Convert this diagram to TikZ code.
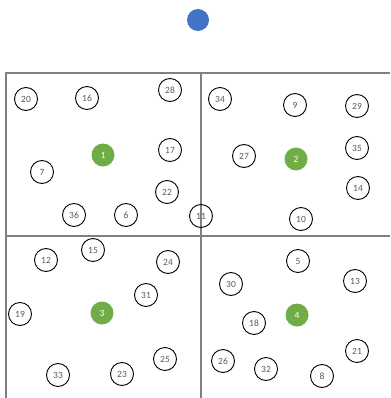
\documentclass[tikz,border=0pt]{standalone}
\usepackage{fontspec}
\setmainfont{Carlito}
\definecolor{frameg}{HTML}{808080}
\definecolor{txtg}{HTML}{595959}
\definecolor{grn}{HTML}{70AD47}
\definecolor{blu}{HTML}{4472C4}
\begin{document}
\begin{tikzpicture}[x=1pt,y=-1pt,
  pt/.style={circle,draw=black,line width=0.9pt,minimum size=23pt,inner sep=0pt,font=\fontsize{9.5}{10}\selectfont,text=txtg},
  hub/.style={circle,fill=grn,minimum size=23pt,inner sep=0pt,font=\fontsize{9.5}{10}\selectfont,text=white},
  frame/.style={draw=frameg,line width=1.2pt}]
\useasboundingbox (0,0) rectangle (390,398);
\draw[frame] (6,398) -- (6,73) -- (390,73);
\draw[frame] (201,73) -- (201,398);
\draw[frame] (6,236) -- (390,236);
\node[circle,fill=blu,minimum width=22pt,inner sep=0pt] (top) at (198,20) {};
\node[hub] (n1) at (103,155) {1};
\node[hub] (n2) at (296,159) {2};
\node[hub] (n3) at (102,313) {3};
\node[hub] (n4) at (297,315) {4};
\node[pt] (n20) at (26,99) {20};
\node[pt] (n16) at (87,98) {16};
\node[pt] (n28) at (170,90) {28};
\node[pt] (n34) at (220,99) {34};
\node[pt] (n9) at (295,105) {9};
\node[pt] (n29) at (357,106) {29};
\node[pt] (n17) at (170,150) {17};
\node[pt] (n7) at (42,172) {7};
\node[pt] (n22) at (167,192) {22};
\node[pt] (n36) at (74,215) {36};
\node[pt] (n6) at (126,215) {6};
\node[pt] (n15) at (93,250) {15};
\node[pt] (n12) at (46,260) {12};
\node[pt] (n24) at (168,262) {24};
\node[pt] (n27) at (244,156) {27};
\node[pt] (n35) at (357,148) {35};
\node[pt] (n14) at (358,188) {14};
\node[pt] (n11) at (201,216) {11};
\node[pt] (n10) at (301,219) {10};
\node[pt] (n5) at (298,261) {5};
\node[pt] (n31) at (146,295) {31};
\node[pt] (n19) at (20,314) {19};
\node[pt] (n25) at (165,359) {25};
\node[pt] (n33) at (58,375) {33};
\node[pt] (n23) at (122,374) {23};
\node[pt] (n30) at (231,284) {30};
\node[pt] (n13) at (355,281) {13};
\node[pt] (n18) at (254,323) {18};
\node[pt] (n21) at (357,351) {21};
\node[pt] (n26) at (223,361) {26};
\node[pt] (n32) at (266,369) {32};
\node[pt] (n8) at (322,376) {8};
\end{tikzpicture}
\end{document}
